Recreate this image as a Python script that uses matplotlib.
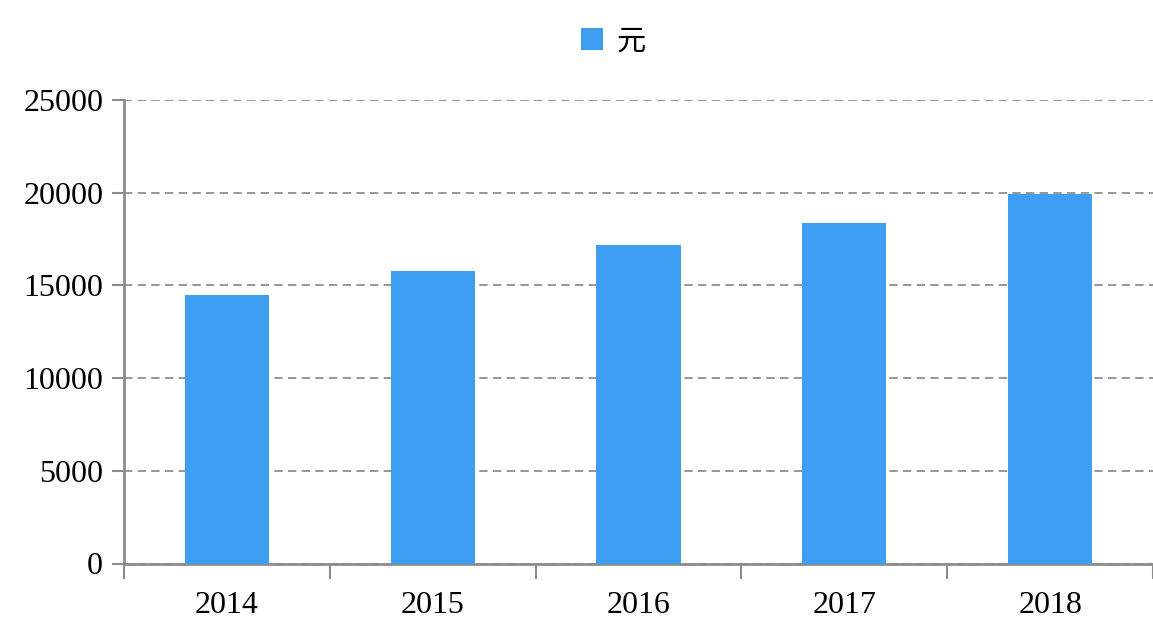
import matplotlib.pyplot as plt
import numpy as np

years = ['2014', '2015', '2016', '2017', '2018']
values = [14500, 15780, 17180, 18380, 19910]
yticks = [0, 5000, 10000, 15000, 20000, 25000]
legend_label = '元'

BAR_COLOR = '#3d9ef2'
AXIS_COLOR = '#8c8c8c'


def main():
    plt.rcParams['font.family'] = ['Liberation Serif', 'Noto Sans CJK SC']
    fig = plt.figure(figsize=(11.53, 6.23), dpi=100)
    ax = fig.add_axes([124 / 1153, 59.5 / 623, 1 - 124 / 1153, (563.5 - 100) / 623])

    x = np.arange(len(years))
    ax.bar(x, values, width=0.41, color=BAR_COLOR, label=legend_label, zorder=3)

    ax.set_xlim(-0.5, len(years) - 0.5)
    ax.set_ylim(0, 25000)

    ax.set_yticks(yticks)
    ax.set_yticklabels([str(v) for v in yticks], fontsize=23)
    ax.yaxis.grid(True, linestyle=(0, (5, 3.2)), color='#858585', linewidth=1.2, zorder=0)

    # labels at bar centres, tick marks at category boundaries
    ax.set_xticks(x)
    ax.set_xticklabels(years, fontsize=23)
    ax.set_xticks(np.arange(len(years) + 1) - 0.5, minor=True)
    ax.tick_params(axis='x', which='major', length=0, pad=20)
    ax.tick_params(axis='x', which='minor', length=11, width=1.5, color=AXIS_COLOR)
    ax.tick_params(axis='y', length=9, width=1.5, color=AXIS_COLOR, pad=6)

    for side in ['top', 'right']:
        ax.spines[side].set_visible(False)
    for side in ['left', 'bottom']:
        ax.spines[side].set_color(AXIS_COLOR)
        ax.spines[side].set_linewidth(2)

    fig.legend(loc='upper center', bbox_to_anchor=(0.532, 1.0), frameon=False,
               prop={'family': 'Noto Sans CJK SC', 'size': 21},
               handlelength=0.75, handleheight=0.75, handletextpad=0.45)

    fig.savefig('out.png', dpi=100)


if __name__ == '__main__':
    main()
